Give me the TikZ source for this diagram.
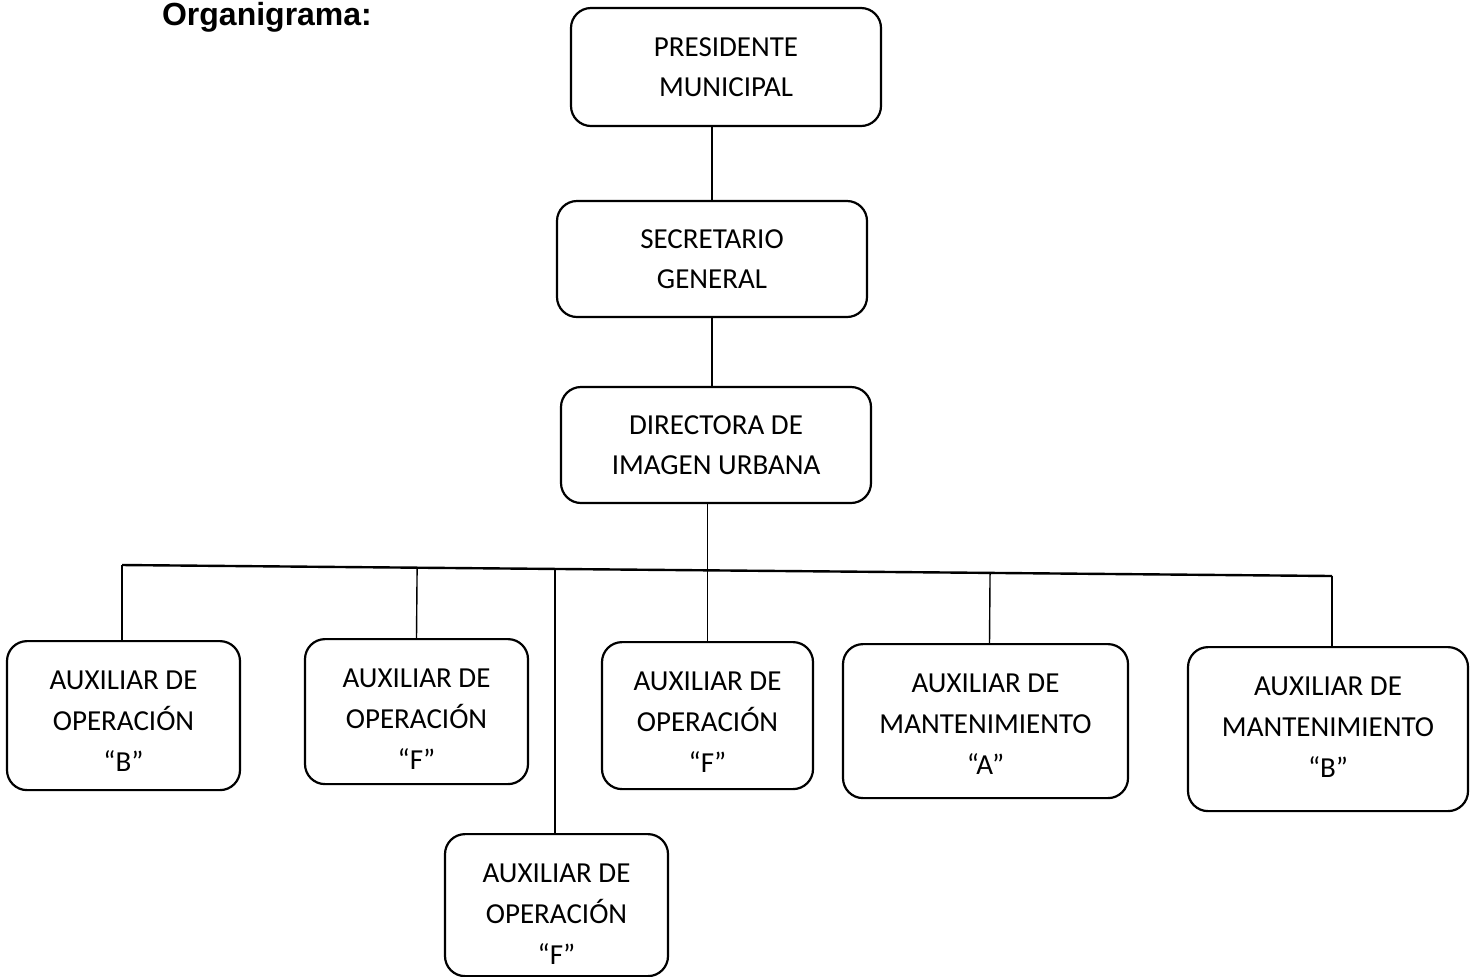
\documentclass[tikz,border=0pt]{standalone}
\usepackage{fontspec}
\setmainfont{Carlito}
\newfontfamily\titlefont{Liberation Sans}
\usetikzlibrary{calc}
\tikzset{
  jefe/.style 2 args={draw, rounded corners=10pt, line width=1.1pt, align=center,
    inner sep=0pt, minimum width=#1*0.5pt, minimum height=#2*0.5pt,
    font=\fontsize{14.5}{20}\selectfont},
  cargo/.style 2 args={draw, rounded corners=10pt, line width=1.1pt, align=center,
    inner sep=0pt, minimum width=#1*0.5pt, text height=65pt, text depth=#2*0.5pt-65pt,
    font=\fontsize{14.5}{20.5}\selectfont},
  liga/.style={line width=0.7pt}
}
\begin{document}
\begin{tikzpicture}[x=0.5pt,y=-0.5pt]
            \useasboundingbox (0,0) rectangle (1475,976);
            \node[anchor=base west, font=\titlefont\bfseries\fontsize{16}{19}\selectfont] (T) at (155,25) {Organigrama:};

            \node[jefe={310}{118}] (P) at (726,67) {PRESIDENTE\\MUNICIPAL};
            \node[jefe={310}{116}] (S) at (712,259) {SECRETARIO\\GENERAL};
            \node[jefe={310}{116}] (D) at (716,445) {DIRECTORA DE\\IMAGEN URBANA};

            \node[cargo={233}{149}, anchor=north] (B) at (123.5,640) {AUXILIAR DE\\OPERACIÓN\\“B”};
            \node[cargo={223}{145}, anchor=north] (F) at (416.5,638) {AUXILIAR DE\\OPERACIÓN\\“F”};
            \node[cargo={223}{142}, anchor=north] (G) at (556.5,833) {AUXILIAR DE\\OPERACIÓN\\“F”};
            \node[cargo={211}{147}, anchor=north] (H) at (707.5,641) {AUXILIAR DE\\OPERACIÓN\\“F”};
            \node[cargo={285}{154}, anchor=north] (MA) at (985.5,643) {AUXILIAR DE\\MANTENIMIENTO\\“A”};
            \node[cargo={280}{164}, anchor=north] (MB) at (1328,646) {AUXILIAR DE\\MANTENIMIENTO\\“B”};

            \coordinate (L) at (122,565);
            \coordinate (R) at (1332,576);
            \coordinate (X) at (555,569);

            \draw[liga] (S.north) -- (S.north |- P.south);
            \draw[liga] (S.south) -- (S.south |- D.north);
            \draw[line width=1.2pt] (L) -- (R);
            \draw[liga] (H.north) -- (D.south -| H.north);
            \draw[liga] (L) -- (L |- B.north);
            \draw[liga] (R) -- (R |- MB.north);
            \draw[liga] ($(L)!(F.north)!(R)$) -- (F.north);
            \draw[liga] (X) -- (X |- G.north);
            \draw[liga] ($(L)!([xshift=2pt]MA.north)!(R)$) -- ([xshift=2pt]MA.north);
\end{tikzpicture}
\end{document}
